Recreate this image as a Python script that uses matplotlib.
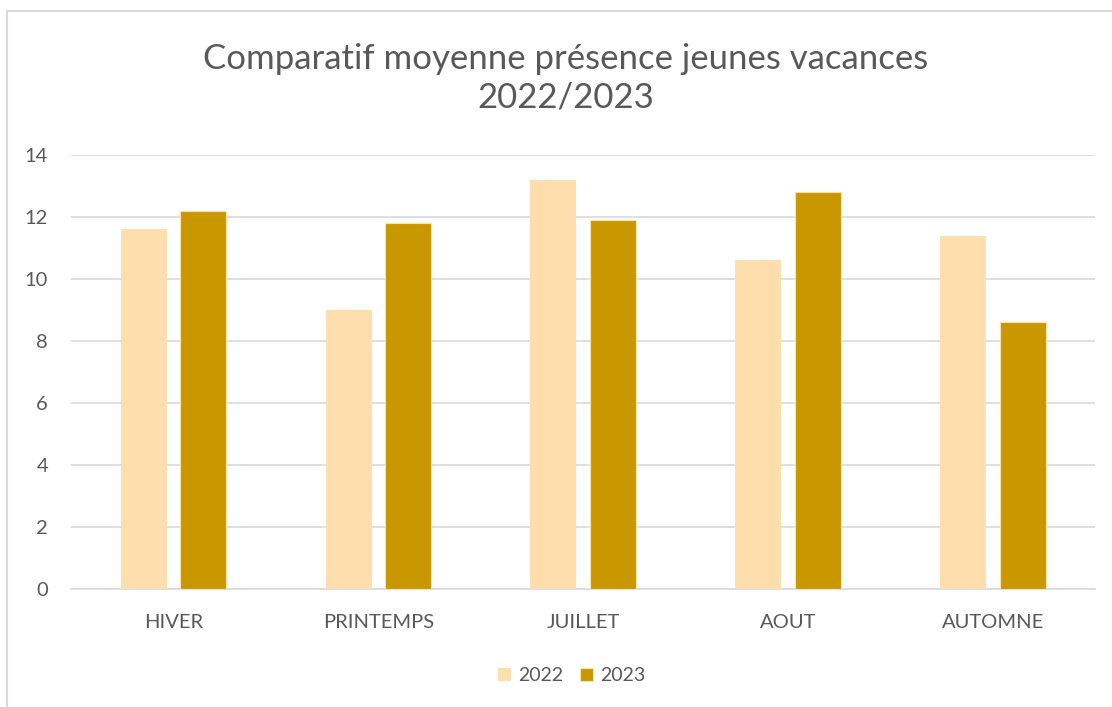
import matplotlib.pyplot as plt
import numpy as np
from matplotlib.patches import Rectangle

plt.rcParams['font.family'] = ['Lato', 'DejaVu Sans']

# données
categories = ['HIVER', 'PRINTEMPS', 'JUILLET', 'AOUT', 'AUTOMNE']
valeurs_2022 = [11.6, 9.0, 13.2, 10.6, 11.4]
valeurs_2023 = [12.2, 11.8, 11.9, 12.8, 8.6]

fig = plt.figure(figsize=(11.12, 7.07), dpi=100)
ax = fig.add_axes([0.0638, 0.1669, 0.9212, 0.6139])

x = np.arange(len(categories))
w = 0.225
ax.bar(x - 0.145, valeurs_2022, w, color='#FFDEAD', label='2022', zorder=3)
ax.bar(x + 0.145, valeurs_2023, w, color='#C99700', edgecolor='#FFE2A8',
       linewidth=0.8, label='2023', zorder=3)

ax.set_xlim(-0.5, len(categories) - 0.5)
ax.set_ylim(0, 14)
ax.set_yticks(range(0, 15, 2))
ax.set_xticks(x)
ax.set_xticklabels(categories)
ax.grid(axis='y', color='#D9D9D9', linewidth=1.2, zorder=0)
for s in ['top', 'right', 'left']:
    ax.spines[s].set_visible(False)
ax.spines['bottom'].set_color('#D9D9D9')
ax.spines['bottom'].set_linewidth(1.2)
ax.tick_params(length=0, labelsize=14.5, colors='#595959')
ax.tick_params(axis='x', pad=18)
ax.tick_params(axis='y', pad=16.5)

fig.text(0.509, 0.889, 'Comparatif moyenne présence jeunes vacances\n2022/2023',
         ha='center', va='center', fontsize=25, color='#595959', linespacing=1.24)

leg = ax.legend(loc='center', bbox_to_anchor=(0.489, -0.2), ncol=2, frameon=False,
                fontsize=14, handlelength=0.65, handleheight=0.65, columnspacing=0.85,
                handletextpad=0.4)
for t in leg.get_texts():
    t.set_color('#595959')

# cadre du graphique
fig.patches.append(Rectangle((6.5 / 1112, -0.1), 1.2, 1 - 10.5 / 707 + 0.1,
                             transform=fig.transFigure, fill=False,
                             edgecolor='#D9D9D9', linewidth=1.5))

fig.savefig('out.png', dpi=100)
